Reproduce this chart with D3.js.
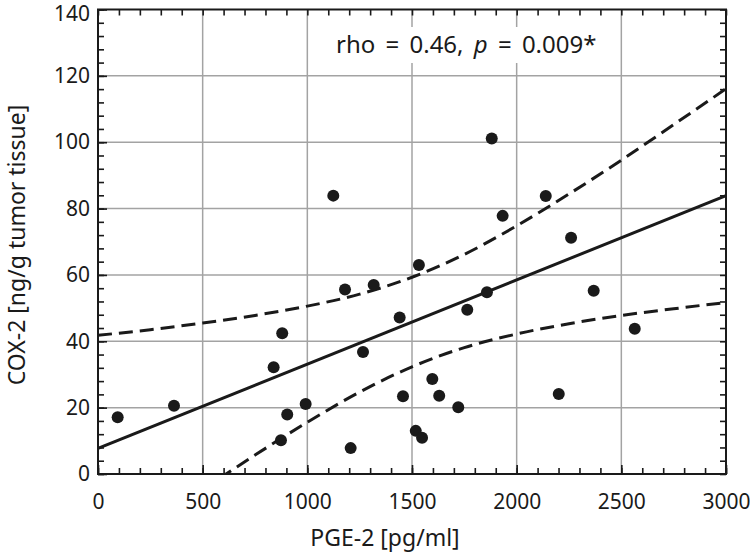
<!DOCTYPE html>
<html>
<head>
<meta charset="utf-8">
<script src="https://cdn.jsdelivr.net/npm/d3@7"></script>
<style>
  body { margin: 0; background: #fff; }
  svg text { font-family: "Noto Sans", "Open Sans", sans-serif; fill: #1a1a1a; }
</style>
</head>
<body>
<svg id="chart" width="750" height="560"></svg>
<script>
// ---- data ----
const pge2 = [94, 363, 839, 880, 874, 904, 992, 1124, 1180, 1207, 1266, 1317, 1441, 1457,
  1518, 1548, 1533, 1597, 1630, 1721, 1764, 1858, 1881, 1933, 2139, 2201, 2260, 2368, 2564];
const cox2 = [17.1, 20.6, 32.2, 42.4, 10.2, 17.9, 21.1, 83.9, 55.6, 7.8, 36.8, 57.0, 47.2, 23.4,
  13.0, 10.9, 63.0, 28.6, 23.6, 20.1, 49.5, 54.8, 101.1, 77.8, 83.8, 24.1, 71.2, 55.2, 43.8];

const fitX = [0, 3000];
const fitY = [7.7, 83.9];

const bandX     = [0, 250, 500, 750, 1000, 1250, 1500, 1750, 2000, 2250, 2500, 2750, 3000];
const bandUpper = [41.8, 43.5, 45.5, 47.8, 50.6, 54.2, 59.3, 66.2, 74.8, 84.4, 94.6, 105.3, 116.1];
const bandLower = [-26.4, -15.4, -4.7, 5.7, 15.6, 24.7, 32.3, 38.1, 42.2, 45.3, 47.8, 49.8, 51.7];

const xTicks = [0, 500, 1000, 1500, 2000, 2500, 3000];
const yTicks = [0, 20, 40, 60, 80, 100, 120, 140];
const xMinor = d3.range(0, 3001, 100);
const yMinor = d3.range(0, 141, 4);

const xLabel = "PGE-2 [pg/ml]";
const yLabel = "COX-2 [ng/g tumor tissue]";

// ---- layout ----
const svg = d3.select("#chart");
const L = 98, R = 726, T = 9.5, B = 474;
const x = d3.scaleLinear().domain([0, 3000]).range([L, R]);
const y = d3.scaleLinear().domain([0, 140]).range([B, T]);

svg.append("defs").append("clipPath").attr("id", "clip")
  .append("rect").attr("x", L).attr("y", T).attr("width", R - L).attr("height", B - T);

// grid
const grid = svg.append("g");
grid.selectAll(".gx").data(xTicks.slice(1, -1)).join("line")
  .attr("x1", d => x(d)).attr("x2", d => x(d)).attr("y1", T).attr("y2", B)
  .attr("stroke", "#a3a3a3").attr("stroke-width", 1.5);
grid.selectAll(".gy").data(yTicks.slice(1, -1)).join("line")
  .attr("x1", L).attr("x2", R).attr("y1", d => y(d)).attr("y2", d => y(d))
  .attr("stroke", "#a3a3a3").attr("stroke-width", 1.5);

// annotation background
const annX = 336, annY = 53;
svg.append("rect").attr("x", annX - 8).attr("y", 27).attr("width", 280).attr("height", 36)
  .attr("fill", "#fff");

// axes (inward ticks)
function styleAxis(g) {
  g.select(".domain").remove();
  g.selectAll(".tick line").attr("stroke", "#1a1a1a").attr("stroke-width", 1.6);
  g.selectAll(".tick text").attr("font-size", 21).attr("fill", "#1a1a1a")
    .attr("font-family", '"Noto Sans", sans-serif');
}
// minor ticks
svg.append("g").attr("transform", `translate(0,${B})`)
  .call(d3.axisBottom(x).tickValues(xMinor).tickSize(-6).tickFormat("")).call(styleAxis);
svg.append("g").attr("transform", `translate(0,${T})`)
  .call(d3.axisTop(x).tickValues(xMinor).tickSize(-6).tickFormat("")).call(styleAxis);
svg.append("g").attr("transform", `translate(${L},0)`)
  .call(d3.axisLeft(y).tickValues(yMinor).tickSize(-6).tickFormat("")).call(styleAxis);
svg.append("g").attr("transform", `translate(${R},0)`)
  .call(d3.axisRight(y).tickValues(yMinor).tickSize(-6).tickFormat("")).call(styleAxis);
// major ticks with labels
svg.append("g").attr("transform", `translate(0,${B})`)
  .call(d3.axisBottom(x).tickValues(xTicks).tickSize(-9).tickPadding(20).tickFormat(d3.format("d")))
  .call(styleAxis);
const yAx = svg.append("g").attr("transform", `translate(${L},0)`)
  .call(d3.axisLeft(y).tickValues(yTicks).tickSize(-9).tickPadding(8).tickFormat(d3.format("d")))
  .call(styleAxis);
yAx.selectAll(".tick text").filter(d => d === 140).attr("y", 4);

// confidence band & fit
const plot = svg.append("g").attr("clip-path", "url(#clip)");
const line = d3.line().x(d => x(d[0])).y(d => y(d[1])).curve(d3.curveMonotoneX);
plot.append("path").datum(d3.zip(bandX, bandUpper)).attr("d", line)
  .attr("fill", "none").attr("stroke", "#1a1a1a").attr("stroke-width", 3)
  .attr("stroke-dasharray", "14,7");
plot.append("path").datum(d3.zip(bandX, bandLower)).attr("d", line)
  .attr("fill", "none").attr("stroke", "#1a1a1a").attr("stroke-width", 3)
  .attr("stroke-dasharray", "14,7");
plot.append("path").datum(d3.zip(fitX, fitY)).attr("d", d3.line().x(d => x(d[0])).y(d => y(d[1])))
  .attr("fill", "none").attr("stroke", "#1a1a1a").attr("stroke-width", 3);

// points
svg.append("g").selectAll("circle").data(d3.zip(pge2, cox2)).join("circle")
  .attr("cx", d => x(d[0])).attr("cy", d => y(d[1])).attr("r", 6)
  .attr("fill", "#1a1a1a");

// frame
svg.append("rect").attr("x", L).attr("y", T).attr("width", R - L).attr("height", B - T)
  .attr("fill", "none").attr("stroke", "#1a1a1a").attr("stroke-width", 2);

// annotation
const ann = svg.append("text").attr("x", annX).attr("y", annY).attr("font-size", 24)
  .attr("word-spacing", 4);
ann.append("tspan").text("rho = 0.46, ");
ann.append("tspan").attr("font-style", "italic").text("p");
ann.append("tspan").text(" = 0.009*");

// axis labels
svg.append("text").attr("x", 385).attr("y", 546).attr("text-anchor", "middle")
  .attr("font-size", 23).text(xLabel);
svg.append("text").attr("transform", "translate(25,245) rotate(-90)")
  .attr("text-anchor", "middle").attr("font-size", 23).text(yLabel);
</script>
</body>
</html>
